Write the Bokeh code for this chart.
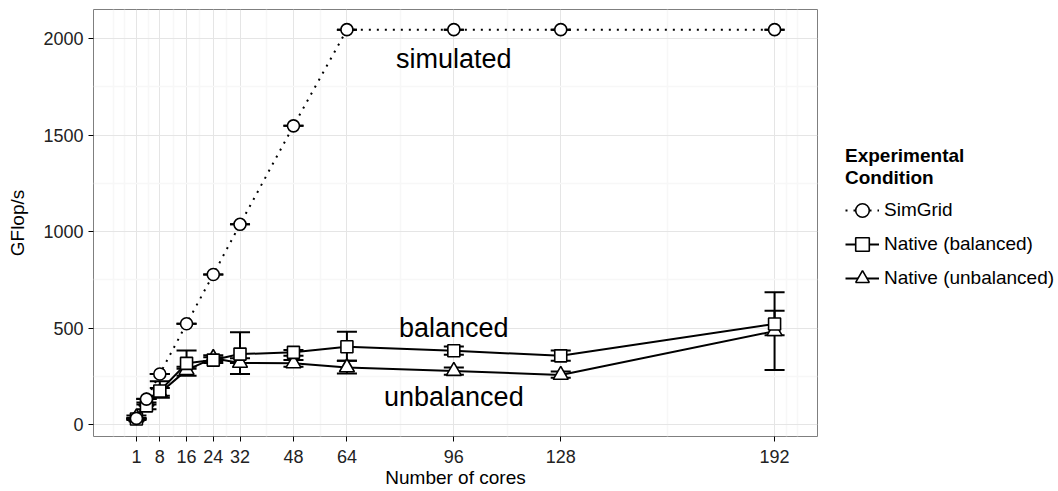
import numpy as np
from bokeh.plotting import figure
from bokeh.models import FixedTicker, Legend, LegendItem
from bokeh.embed import file_html
from bokeh.resources import INLINE
from bokeh.core.properties import value

# ---------------- data ----------------
cores = [1, 4, 8, 16, 24, 32, 48, 64, 96, 128, 192]
simgrid = [33, 133, 263, 523, 778, 1038, 1548, 2046, 2046, 2046, 2046]
balanced = [30, 98, 175, 318, 335, 366, 375, 404, 383, 357, 522]
balanced_lo = [25, 80, 150, 290, 320, 320, 358, 332, 363, 332, 463]
balanced_hi = [35, 115, 226, 384, 350, 479, 387, 482, 405, 384, 591]
unbalanced = [38, 120, 165, 283, 345, 320, 318, 297, 278, 258, 485]
unbalanced_lo = [28, 105, 140, 254, 330, 263, 300, 266, 259, 243, 284]
unbalanced_hi = [48, 135, 190, 300, 360, 345, 335, 332, 297, 276, 686]

x_ticks = [1, 8, 16, 24, 32, 48, 64, 96, 128, 192]
x_minor = [-6, -2.5, 4.5, 12, 20, 28, 40, 56, 80, 112, 160, 195.5, 199]
y_ticks = [0, 500, 1000, 1500, 2000]
y_minor = [250, 750, 1250, 1750]

annot_text = ["simulated", "balanced", "unbalanced"]
annot_x = [96, 96, 96]
annot_y = [1893, 500, 145]

ERR_HALF = 3  # half width of error-bar caps, in cores
FONT = "Liberation Sans"

p = figure(frame_width=724, frame_height=427,
           x_range=(-11.85, 204.85), y_range=(-60.7, 2150.4),
           output_backend="svg", toolbar_location=None,
           min_border_left=93, min_border_right=241,
           min_border_top=9, min_border_bottom=55,
           background_fill_color="white", border_fill_color="white")

p.outline_line_color = "#7F7F7F"
p.outline_line_width = 1

# grid
for g in (p.xgrid, p.ygrid):
    g.grid_line_color = "#E5E5E5"
    g.grid_line_width = 1
    g.minor_grid_line_color = "#F7F7F7"
    g.minor_grid_line_width = 1.5

p.xaxis.ticker = FixedTicker(ticks=x_ticks, minor_ticks=x_minor)
p.yaxis.ticker = FixedTicker(ticks=y_ticks, minor_ticks=y_minor)

for ax in (p.xaxis, p.yaxis):
    ax.axis_line_color = None
    ax.major_tick_line_color = "black"
    ax.major_tick_line_width = 1
    ax.major_tick_out = 5
    ax.major_tick_in = 0
    ax.minor_tick_line_color = None
    ax.major_label_text_font = FONT
    ax.major_label_text_font_size = "18px"
    ax.major_label_text_color = "#222222"
    ax.axis_label_text_font = FONT
    ax.axis_label_text_font_size = "19px"
    ax.axis_label_text_font_style = "normal"
    ax.axis_label_text_color = "black"

p.xaxis.axis_label = "Number of cores"
p.yaxis.axis_label = "GFlop/s"
p.xaxis.major_label_standoff = 8
p.xaxis.axis_label_standoff = 1
p.yaxis.major_label_standoff = 5
p.yaxis.axis_label_standoff = 12

c = np.array(cores, dtype=float)

# ---------------- lines ----------------
l_sim = p.line(cores, simgrid, line_color="black", line_width=2, line_dash="2 6")
l_bal = p.line(cores, balanced, line_color="black", line_width=2)
l_unb = p.line(cores, unbalanced, line_color="black", line_width=2)

# ---------------- error bars ----------------
def errorbars(lo, hi):
    lo = np.array(lo, dtype=float)
    hi = np.array(hi, dtype=float)
    p.segment(c, lo, c, hi, line_color="black", line_width=2)
    p.segment(c - ERR_HALF, hi, c + ERR_HALF, hi, line_color="black", line_width=2)
    p.segment(c - ERR_HALF, lo, c + ERR_HALF, lo, line_color="black", line_width=2)

errorbars(simgrid, simgrid)
errorbars(unbalanced_lo, unbalanced_hi)
errorbars(balanced_lo, balanced_hi)

# ---------------- points ----------------
m_unb = p.scatter(cores, unbalanced, marker="triangle", size=15,
                  fill_color="white", line_color="black", line_width=1.6)
m_bal = p.scatter(cores, balanced, marker="square", size=12,
                  fill_color="white", line_color="black", line_width=1.6)
m_sim = p.scatter(cores, simgrid, marker="circle", size=12,
                  fill_color="white", line_color="black", line_width=1.6)

# ---------------- annotations ----------------
p.text(x=annot_x, y=annot_y, text=annot_text, text_font=value(FONT),
       text_font_size="27px", text_align="center", text_baseline="middle",
       text_color="black")

# ---------------- legend ----------------
legend = Legend(items=[
    LegendItem(label="SimGrid", renderers=[l_sim, m_sim]),
    LegendItem(label="Native (balanced)", renderers=[l_bal, m_bal]),
    LegendItem(label="Native (unbalanced)", renderers=[l_unb, m_unb]),
], location=(28, 141))
legend.title = "Experimental\nCondition"
legend.title_text_font = FONT
legend.title_text_font_size = "19px"
legend.title_text_font_style = "bold"
legend.title_text_color = "black"
legend.title_standoff = 4
legend.label_text_font = FONT
legend.label_text_font_size = "19px"
legend.label_text_color = "black"
legend.label_standoff = 5
legend.glyph_width = 34
legend.glyph_height = 34
legend.label_height = 34
legend.spacing = 0
legend.padding = 0
legend.margin = 0
legend.border_line_color = None
legend.background_fill_alpha = 0
p.add_layout(legend, "right")

open("out.html", "w").write(file_html(p, INLINE))
